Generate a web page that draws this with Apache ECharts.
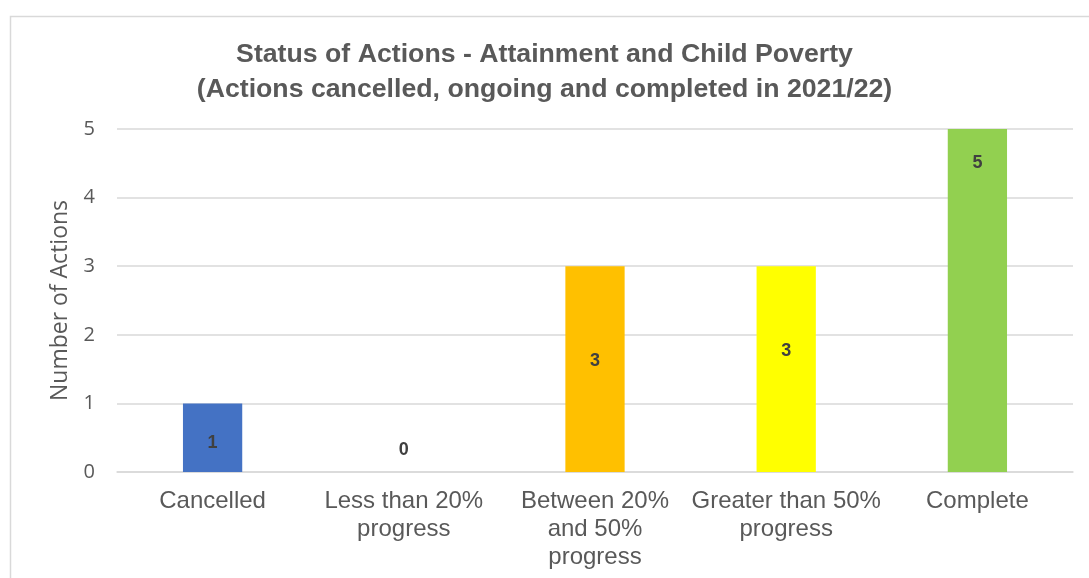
<!DOCTYPE html>
<html>
<head>
<meta charset="utf-8">
<script src="https://cdn.jsdelivr.net/npm/echarts@6/dist/echarts.min.js"></script>
<style>
html,body{margin:0;padding:0;background:#fff;}
#chart{width:1089px;height:578px;}
</style>
</head>
<body>
<div id="chart"></div>
<script>
const categories = ['Cancelled', 'Less than 20%\nprogress', 'Between 20%\nand 50%\nprogress', 'Greater than 50%\nprogress', 'Complete'];
const values = [1, 0, 3, 3, 5];
const barColors = ['#4472C4', '#A5A5A5', '#FFC000', '#FFFF00', '#92D050'];
const yTicks = [0, 1, 2, 3, 4, 5];
const titleLines = ['Status of Actions - Attainment and Child Poverty', '(Actions cancelled, ongoing and completed in 2021/22)'];

// label styling offsets (appearance only)
const labelOffsets = [[0, 5], [0, -22], [0, -8], [0, -18], [0, -137]];

const chart = echarts.init(document.getElementById('chart'), null, {renderer: 'canvas'});
const FONT = '"Liberation Sans", Arial, sans-serif';
const FONT2 = '"Open Sans", "Noto Sans", sans-serif';
chart.setOption({
  animation: false,
  backgroundColor: '#fff',
  graphic: [{
    type: 'rect', left: 8, top: 14, z: -1, silent: true,
    shape: {width: 1100, height: 600},
    style: {fill: 'none', stroke: '#d9d9d9', lineWidth: 1.5}
  }],
  title: {
    text: titleLines.join('\n'),
    left: 'center', top: 32,
    textStyle: {fontFamily: FONT, fontSize: 26.7, fontWeight: 'bold', color: '#595959', lineHeight: 35}
  },
  grid: {left: 117, right: 16, top: 129, bottom: 106, containLabel: false},
  xAxis: {
    type: 'category', data: categories,
    axisLine: {show: true, lineStyle: {color: '#d9d9d9', width: 1.5}},
    axisTick: {show: false},
    axisLabel: {fontFamily: FONT, fontSize: 24, color: '#595959', lineHeight: 28, margin: 15, interval: 0}
  },
  yAxis: {
    type: 'value', min: 0, max: 5, interval: 1,
    name: 'Number of Actions', nameLocation: 'middle', nameGap: 45, nameRotate: 90,
    nameTextStyle: {fontFamily: FONT2, fontSize: 23, color: '#595959'},
    axisLabel: {fontFamily: FONT2, fontSize: 20, color: '#595959', margin: 22,
      formatter: v => String(yTicks[yTicks.indexOf(v)])},
    axisLine: {show: false}, axisTick: {show: false},
    splitLine: {lineStyle: {color: '#d9d9d9', width: 1.5}}
  },
  series: [{
    type: 'bar', barWidth: '31%',
    data: values.map((v, i) => ({
      value: v,
      itemStyle: {color: barColors[i]},
      label: {offset: labelOffsets[i]}
    })),
    label: {show: true, position: 'inside', fontFamily: FONT, fontSize: 18, fontWeight: 'bold', color: '#404040'}
  }]
});
</script>
</body>
</html>
